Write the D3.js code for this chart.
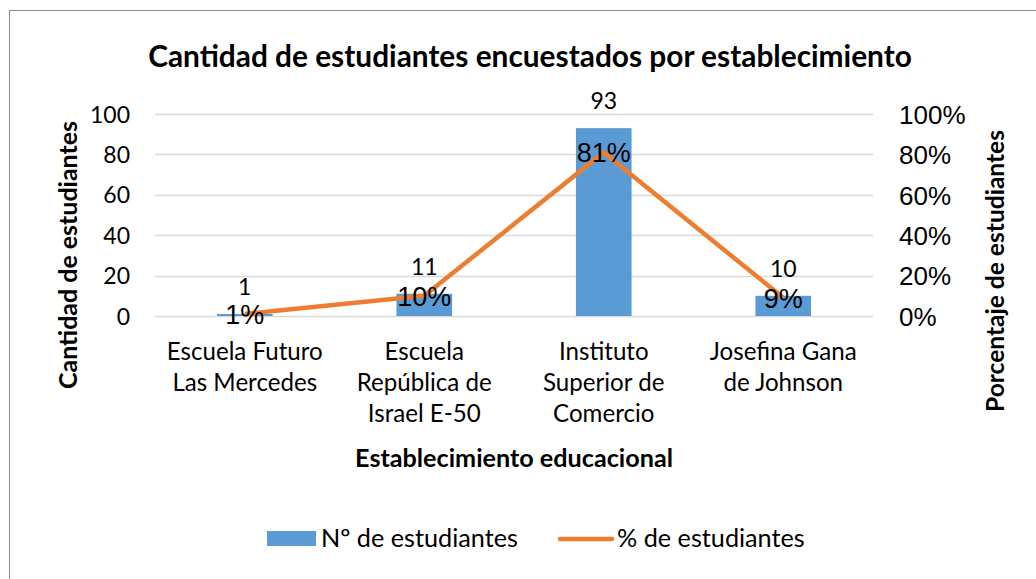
<!DOCTYPE html>
<html>
<head>
<meta charset="utf-8">
<script src="https://cdn.jsdelivr.net/npm/d3@7"></script>
<style>
  body { margin: 0; background: #fff; }
  svg text { fill: #000; }
</style>
</head>
<body>
<svg width="1036" height="579"></svg>
<script>
const categories = [
  ['Escuela Futuro', 'Las Mercedes'],
  ['Escuela', 'República de', 'Israel E-50'],
  ['Instituto', 'Superior de', 'Comercio'],
  ['Josefina Gana', 'de Johnson']
];
const students = [1, 11, 93, 10];
const percents = [1, 10, 81, 9];
const leftTicks = [0, 20, 40, 60, 80, 100];
const rightTicks = [0, 20, 40, 60, 80, 100];

const CAL = 'Lato, "Open Sans", sans-serif';
const ARIAL = '"Liberation Sans", Arial, sans-serif';

const svg = d3.select('svg');
const margin = { left: 155, right: 163, top: 114, bottom: 263 };
const width = 1036, height = 579;

// fit a text to the width it has in the picture
const fitWidth = (sel, w) => {
    const len = sel.node().getComputedTextLength();
    const fs = parseFloat(sel.attr('font-size'));
    sel.attr('font-size', fs * w / len);
    return fs * w / len;
};

// chart border
svg.append('path')
    .attr('d', 'M9.5,579 V10.5 H1036')
    .attr('fill', 'none')
    .attr('stroke', '#8c8c8c')
    .attr('stroke-width', 1);

const x = d3.scaleBand()
    .domain(d3.range(categories.length))
    .range([margin.left, width - margin.right])
    .paddingInner(0.69)
    .paddingOuter(0.345);

const y = d3.scaleLinear().domain([0, 100]).range([height - margin.bottom, margin.top]);
const y2 = d3.scaleLinear().domain([0, 100]).range([height - margin.bottom, margin.top]);

const cx = i => x(i) + x.bandwidth() / 2;

// grid
svg.append('g')
    .selectAll('line')
    .data(leftTicks)
    .enter().append('line')
    .attr('x1', margin.left)
    .attr('x2', width - margin.right)
    .attr('y1', d => Math.round(y(d)) + 0.5)
    .attr('y2', d => Math.round(y(d)) + 0.5)
    .attr('stroke', '#d9d9d9')
    .attr('stroke-width', 1.5);

// left axis
const leftAxis = svg.append('g')
    .attr('transform', `translate(${margin.left - 25},0)`)
    .call(d3.axisLeft(y).tickValues(leftTicks).tickSize(0).tickPadding(0));
leftAxis.select('.domain').remove();
leftAxis.selectAll('text')
    .attr('font-family', null).style('font-family', CAL)
    .attr('font-size', 23).attr('dy', '0.35em').attr('fill', '#000');

// right axis
const rightAxis = svg.append('g')
    .attr('transform', `translate(${width - margin.right + 26},0)`)
    .call(d3.axisRight(y2).tickValues(rightTicks).tickSize(0).tickPadding(0).tickFormat(d => d + '%'));
rightAxis.select('.domain').remove();
rightAxis.selectAll('text')
    .attr('font-family', null).style('font-family', ARIAL)
    .attr('font-size', 26).attr('dy', '0.36em').attr('fill', '#000');

// bars
svg.append('g')
    .selectAll('rect')
    .data(students)
    .enter().append('rect')
    .attr('x', (d, i) => x(i))
    .attr('width', x.bandwidth())
    .attr('y', d => y(d))
    .attr('height', d => y(0) - y(d))
    .attr('fill', '#5b9bd5');

// bar labels
svg.append('g')
    .selectAll('text')
    .data(students)
    .enter().append('text')
    .style('font-family', CAL)
    .attr('x', (d, i) => cx(i))
    .attr('y', d => y(d) - 19)
    .attr('text-anchor', 'middle')
    .attr('font-size', 23)
    .text(d => d);

// line
const line = d3.line()
    .x((d, i) => cx(i))
    .y(d => y2(d));
svg.append('path')
    .datum(percents)
    .attr('d', line)
    .attr('fill', 'none')
    .attr('stroke', '#ed7d31')
    .attr('stroke-width', 4.5)
    .attr('stroke-linejoin', 'round');

// line labels
svg.append('g')
    .selectAll('text')
    .data(percents)
    .enter().append('text')
    .style('font-family', ARIAL)
    .attr('x', (d, i) => cx(i))
    .attr('y', d => y2(d))
    .attr('dy', '0.36em')
    .attr('text-anchor', 'middle')
    .attr('font-size', 27)
    .text(d => d + '%');

// category labels
const cat = svg.append('g')
    .selectAll('text')
    .data(categories)
    .enter().append('text')
    .style('font-family', CAL)
    .attr('text-anchor', 'middle')
    .attr('font-size', 20);
cat.selectAll('tspan')
    .data((d, i) => d.map(s => ({ s, i })))
    .enter().append('tspan')
    .attr('x', d => cx(d.i))
    .attr('y', (d, j) => 360 + j * 31)
    .text(d => d.s);
const firstLen = cat.select('tspan').node().getComputedTextLength();
cat.attr('font-size', 20 * 156 / firstLen);

// title
const title = svg.append('text')
    .style('font-family', CAL)
    .attr('x', 530)
    .attr('y', 67)
    .attr('text-anchor', 'middle')
    .attr('font-size', 26)
    .attr('font-weight', 'bold')
    .text('Cantidad de estudiantes encuestados por establecimiento');
fitWidth(title, 764);

// axis titles
const yTitle = svg.append('text')
    .style('font-family', CAL)
    .attr('transform', 'translate(77,255) rotate(-90)')
    .attr('text-anchor', 'middle')
    .attr('font-size', 20)
    .attr('font-weight', 'bold')
    .text('Cantidad de estudiantes');
fitWidth(yTitle, 268);

const y2Title = svg.append('text')
    .style('font-family', CAL)
    .attr('transform', 'translate(1004,271) rotate(-90)')
    .attr('text-anchor', 'middle')
    .attr('font-size', 20)
    .attr('font-weight', 'bold')
    .text('Porcentaje de estudiantes');
fitWidth(y2Title, 282);

const xTitle = svg.append('text')
    .style('font-family', CAL)
    .attr('x', 514)
    .attr('y', 467)
    .attr('text-anchor', 'middle')
    .attr('font-size', 20)
    .attr('font-weight', 'bold')
    .text('Establecimiento educacional');
fitWidth(xTitle, 318);

// legend
const legend = svg.append('g');
legend.append('rect')
    .attr('x', 267).attr('y', 531)
    .attr('width', 49).attr('height', 15)
    .attr('fill', '#5b9bd5');
const leg1 = legend.append('text')
    .style('font-family', CAL)
    .attr('x', 321).attr('y', 547)
    .attr('font-size', 21)
    .text('Nº de estudiantes');
const legSize = fitWidth(leg1, 197);
legend.append('line')
    .attr('x1', 560).attr('x2', 612)
    .attr('y1', 539).attr('y2', 539)
    .attr('stroke', '#ed7d31')
    .attr('stroke-width', 4.5)
    .attr('stroke-linecap', 'round');
legend.append('text')
    .style('font-family', CAL)
    .attr('x', 617).attr('y', 547)
    .attr('font-size', legSize)
    .text('% de estudiantes');
</script>
</body>
</html>
